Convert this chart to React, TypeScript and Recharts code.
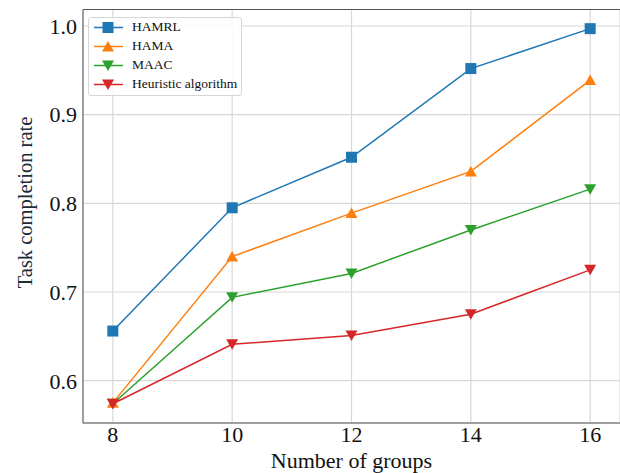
import { CartesianGrid, Legend, Line, LineChart, ReferenceLine, XAxis, YAxis } from "recharts";

const groups = [8, 10, 12, 14, 16];
const hamrl = [0.656, 0.795, 0.852, 0.952, 0.997];
const hama = [0.575, 0.74, 0.789, 0.836, 0.939];
const maac = [0.574, 0.694, 0.721, 0.77, 0.816];
const heuristic = [0.574, 0.641, 0.651, 0.675, 0.725];

const xTicks = [8, 10, 12, 14, 16];
const yTicks = [0.6, 0.7, 0.8, 0.9, 1.0];
const X_MIN = 7.5;
const X_MAX = 16.5;
const Y_MIN = 0.5523;
const Y_MAX = 1.0186;

const FONT = "'Liberation Serif', 'Times New Roman', serif";

type Marker = "square" | "up" | "down";

const series: { key: string; name: string; color: string; marker: Marker }[] = [
  { key: "hamrl", name: "HAMRL", color: "#1f77b4", marker: "square" },
  { key: "hama", name: "HAMA", color: "#ff7f0e", marker: "up" },
  { key: "maac", name: "MAAC", color: "#2ca02c", marker: "down" },
  { key: "heuristic", name: "Heuristic algorithm", color: "#d62728", marker: "down" }
];

const data = groups.map((g, i) => ({
  groups: g,
  hamrl: hamrl[i],
  hama: hama[i],
  maac: maac[i],
  heuristic: heuristic[i]
}));

function markerShape(marker: Marker, cx: number, cy: number, color: string, key?: string | number) {
  if (marker === "square") {
    return <rect key={key} x={cx - 5.5} y={cy - 5.5} width={11} height={11} fill={color} />;
  }
  if (marker === "up") {
    return <polygon key={key} points={`${cx},${cy - 5.5} ${cx - 6},${cy + 5} ${cx + 6},${cy + 5}`} fill={color} />;
  }
  return <polygon key={key} points={`${cx},${cy + 5.5} ${cx - 6},${cy - 5} ${cx + 6},${cy - 5}`} fill={color} />;
}

function makeDot(marker: Marker, color: string) {
  return (props: any) => {
    const { cx, cy, index } = props;
    if (cx == null || cy == null) return <g key={index} />;
    return markerShape(marker, cx, cy, color, index);
  };
}

function LegendBox() {
  return (
    <div
      style={{
        width: 152,
        height: 77,
        border: "1px solid #d6d6d6",
        borderRadius: 3,
        background: "rgba(255,255,255,0.85)",
        fontFamily: FONT,
        fontSize: 13.5,
        color: "#111"
      }}
    >
      {series.map((s) => (
        <div key={s.key} style={{ height: 19, display: "flex", alignItems: "center" }}>
          <svg width={43} height={19} style={{ flex: "none" }}>
            <line x1={5} x2={34} y1={9.5} y2={9.5} stroke={s.color} strokeWidth={1.5} />
            {markerShape(s.marker, 19, 9.5, s.color)}
          </svg>
          <span style={{ whiteSpace: "nowrap" }}>{s.name}</span>
        </div>
      ))}
    </div>
  );
}

export default function App() {
  return (
    <div style={{ position: "fixed", left: 0, top: 0, width: 620, height: 473, background: "#fff" }}>
      <LineChart width={620} height={473} data={data} margin={{ top: 9.5, right: 0, left: 0, bottom: 0 }}>
        <CartesianGrid stroke="#d8d8d8" strokeWidth={1.2} />
        <XAxis
          dataKey="groups"
          type="number"
          domain={[X_MIN, X_MAX]}
          ticks={xTicks}
          allowDataOverflow
          height={50}
          axisLine={{ stroke: "#555", strokeWidth: 1 }}
          tickLine={false}
          tickSize={0}
          tickMargin={3}
          tick={{ fontFamily: FONT, fontSize: 22, fill: "#111" }}
          label={{
            value: "Number of groups",
            position: "insideBottom",
            offset: 5,
            style: { fontFamily: FONT, fontSize: 22, fill: "#111" }
          }}
        />
        <YAxis
          type="number"
          domain={[Y_MIN, Y_MAX]}
          ticks={yTicks}
          allowDataOverflow
          width={83}
          axisLine={{ stroke: "#555", strokeWidth: 1 }}
          tickLine={false}
          tickSize={0}
          tickMargin={6}
          tickFormatter={(v: number) => v.toFixed(1)}
          tick={{ fontFamily: FONT, fontSize: 22, fill: "#111" }}
          label={{
            content: () => (
              <text
                x={31.5}
                y={202.5}
                transform="rotate(-90, 31.5, 202.5)"
                textAnchor="middle"
                fontFamily={FONT}
                fontSize={20.5}
                fill="#1c2b3a"
              >
                Task completion rate
              </text>
            )
          }}
        />
        <ReferenceLine y={Y_MAX} stroke="#555" strokeWidth={1} ifOverflow="extendDomain" />
        {series.map((s) => (
          <Line
            key={s.key}
            dataKey={s.key}
            name={s.name}
            stroke={s.color}
            strokeWidth={1.5}
            dot={makeDot(s.marker, s.color)}
            activeDot={false}
            isAnimationActive={false}
          />
        ))}
        <Legend
          layout="horizontal"
          verticalAlign="middle"
          wrapperStyle={{ left: 88, top: 16.5, width: "auto", height: "auto" }}
          content={() => <LegendBox />}
        />
      </LineChart>
    </div>
  );
}
